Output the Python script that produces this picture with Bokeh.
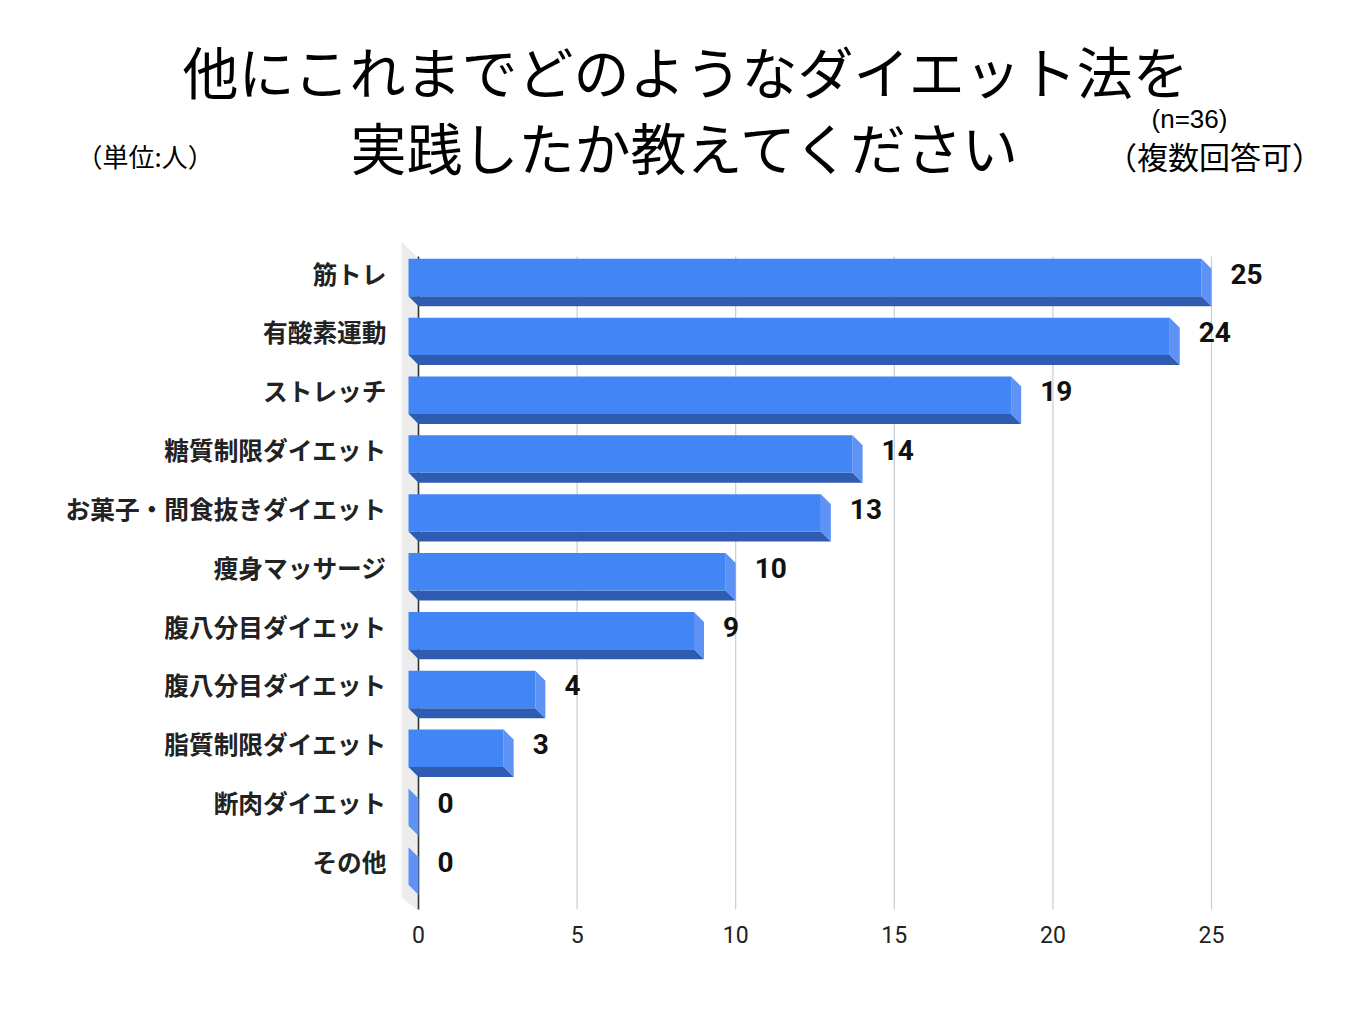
from bokeh.plotting import figure
from bokeh.layouts import column
from bokeh.models import Range1d, FixedTicker
from bokeh.core.properties import value
from bokeh.embed import file_html
from bokeh.resources import INLINE

# ---------------- data ----------------
categories = ["筋トレ", "有酸素運動", "ストレッチ", "糖質制限ダイエット",
              "お菓子・間食抜きダイエット", "痩身マッサージ", "腹八分目ダイエット",
              "腹八分目ダイエット", "脂質制限ダイエット", "断肉ダイエット", "その他"]
values = [25, 24, 19, 14, 13, 10, 9, 4, 3, 0, 0]
x_ticks = [0, 5, 10, 15, 20, 25]
title_lines = ["他にこれまでどのようなダイエット法を", "実践したか教えてください"]
unit_note = "（単位:人）"
n_note = "(n=36)"
multi_note = "（複数回答可）"

# ---------------- geometry (page pixels) ----------------
PAGE_OFF = 0
FIG_W = 1341
HEAD_H = 200                      # header figure height (page y 0..200)
X0PX, XS = 418.0, 31.72           # page x of value 0, px per unit
Y0PX, YS = 272.0, 58.85           # page y of first row, px per row
FL, FR, FT, FB = 400, 1300, 236, 918

def xd(px):
    return (px - X0PX) / XS

def yd(py):
    return (py - Y0PX) / YS

# ---------------- header (title + notes) ----------------
h = figure(width=FIG_W, height=HEAD_H, x_range=Range1d(PAGE_OFF, PAGE_OFF + FIG_W),
           y_range=Range1d(PAGE_OFF + HEAD_H, PAGE_OFF),
           x_axis_location=None, y_axis_location=None,
           min_border=0, output_backend="svg", toolbar_location=None)
h.frame_align = False
h.outline_line_color = None
h.grid.visible = False
h.text(x=[686, 686], y=[69, 145], text=title_lines,
       text_font=value("Noto Sans CJK JP"), text_font_size="56px",
       text_color="#000000", text_align="center", text_baseline="middle")
h.text(x=[76], y=[155], text=[unit_note], text_font=value("Noto Sans CJK JP"),
       text_font_size="26px", text_color="#000000", text_align="left",
       text_baseline="middle")
h.text(x=[1189], y=[118], text=[n_note], text_font=value("Liberation Sans"),
       text_font_size="26px", text_color="#000000", text_align="center",
       text_baseline="middle")
h.text(x=[1214], y=[155], text=[multi_note], text_font=value("Noto Sans CJK JP"),
       text_font_size="31px", text_color="#000000", text_align="center",
       text_baseline="middle")

# ---------------- main chart ----------------
DEPTH = 10.0
dx = DEPTH / XS
dy = DEPTH / YS
hh = 18.7 / YS
off = 5.0 / YS

p = figure(frame_width=FR - FL, frame_height=FB - FT,
           min_border_left=FL - PAGE_OFF, min_border_top=FT - PAGE_OFF - HEAD_H,
           min_border_right=41, min_border_bottom=80,
           x_range=Range1d(xd(FL), xd(FR)), y_range=Range1d(yd(FB), yd(FT)),
           output_backend="svg", toolbar_location=None)
p.frame_align = False
p.outline_line_color = None
p.grid.grid_line_color = None
p.background_fill_color = "white"
p.border_fill_color = "white"

# left wall
p.patch(x=[xd(401), xd(418), xd(418), xd(401)],
        y=[yd(241), yd(258), yd(910), yd(897)],
        fill_color="#ececec", line_color=None)

# grid lines
g_top, g_bot = yd(256), yd(909)
gx = [t for t in x_ticks if t != 0]
p.segment(x0=gx, x1=gx, y0=[g_top] * len(gx), y1=[g_bot] * len(gx),
          line_color="#cccccc", line_width=1.2)
p.segment(x0=[0], x1=[0], y0=[g_top], y1=[g_bot], line_color="#333333", line_width=1.6)

# 3D bars
rows = list(range(len(categories)))
bot_xs, bot_ys, side_xs, side_ys = [], [], [], []
for i, v in zip(rows, values):
    top = i + off - hh
    bot = i + off + hh
    bot_xs.append([-dx, v - dx, v, 0])
    bot_ys.append([bot, bot, bot + dy, bot + dy])
    side_xs.append([v - dx, v, v, v - dx])
    side_ys.append([top, top + dy, bot + dy, bot])

p.patches(xs=bot_xs, ys=bot_ys, fill_color="#2f5bb0", line_color=None)
p.patches(xs=side_xs, ys=side_ys, fill_color="#5e93f5", line_color=None)
p.quad(left=[-dx] * len(values), right=[v - dx for v in values],
       top=[i + off - hh for i in rows], bottom=[i + off + hh for i in rows],
       fill_color="#4285f4", line_color=None)

# value labels
p.text(x=[v + 19 / XS for v in values], y=[i + 1.0 / YS for i in rows],
       text=[str(v) for v in values],
       text_font=value("Roboto"), text_font_style="bold", text_font_size="28px",
       text_color="#111111", text_align="left", text_baseline="middle")

# axes
p.yaxis.ticker = FixedTicker(ticks=rows)
p.yaxis.major_label_overrides = {i: c for i, c in zip(rows, categories)}
p.yaxis.major_label_text_font = "Noto Sans CJK JP"
p.yaxis.major_label_text_font_style = "bold"
p.yaxis.major_label_text_font_size = "24.7px"
p.yaxis.major_label_text_color = "#222222"
p.yaxis.axis_line_color = None
p.yaxis.major_tick_line_color = None
p.yaxis.minor_tick_line_color = None
p.yaxis.major_tick_out = 0
p.yaxis.major_tick_in = 0
p.yaxis.major_label_standoff = 14

p.xaxis.ticker = FixedTicker(ticks=x_ticks)
p.xaxis.major_label_text_font = "Roboto"
p.xaxis.major_label_text_font_size = "23px"
p.xaxis.major_label_text_color = "#222222"
p.xaxis.axis_line_color = None
p.xaxis.major_tick_line_color = None
p.xaxis.minor_tick_line_color = None
p.xaxis.major_tick_out = 0
p.xaxis.major_tick_in = 0
p.xaxis.major_label_standoff = 7

layout = column(h, p, spacing=0)
open("out.html", "w").write(file_html(layout, INLINE))
